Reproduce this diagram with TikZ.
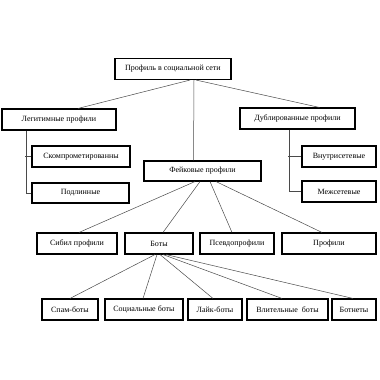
\documentclass[tikz,border=0pt]{standalone}
\usepackage{fontspec}
\setmainfont{Liberation Serif}
\usetikzlibrary{calc}
\definecolor{linegray}{HTML}{4A4A4A}

\begin{document}
\begin{tikzpicture}[x=1pt,y=-1pt,
  box/.style={draw,line width=1.1pt,inner sep=0pt,minimum height=21pt,
    font=\fontsize{8}{9.6}\selectfont},
  link/.style={draw=linegray,line width=.5pt}]
  \useasboundingbox (0,0) rectangle (380,380);

  % Root and first level
  \node[box,minimum width=116pt] (root) at (173,69) {Профиль в социальной сети};
  \node[box,minimum width=114pt] (legit) at (59,119.5) {Легитимные профили};
  \node[box,minimum width=115pt] (dubl) at (297.5,118.5) {Дублированные профили};
  \node[box,minimum width=117pt,minimum height=20pt] (fake) at (202.5,171) {Фейковые профили};

  % Children of the side branches
  \node[box,minimum width=98pt] (komp) at (81,156.5) {Скомпрометированны};
  \node[box,minimum width=97pt,minimum height=20pt] (podl) at (80.5,193) {Подлинные};
  \node[box,minimum width=74pt] (vnutr) at (339,156.5) {Внутрисетевые};
  \node[box,minimum width=74pt] (mezh) at (339,191.5) {Межсетевые};

  % Fake profile types
  \node[box,minimum width=80pt] (sybil) at (77,243.5) {Сибил профили};
  \node[box,minimum width=68pt] (bots) at (159,243.5) {Боты};
  \node[box,minimum width=74pt] (pseudo) at (237,243.5) {Псевдопрофили};
  \node[box,minimum width=94pt] (prof) at (329,243.5) {Профили};

  % Bot types
  \node[box,minimum width=56pt] (spam) at (70,309.5) {Спам-боты};
  \node[box,minimum width=78pt] (social) at (144,309.5) {Социальные боты};
  \node[box,minimum width=54pt] (like) at (215,309.5) {Лайк-боты};
  \node[box,minimum width=81pt] (influ) at (287.5,309.5) {Влительные\ \ боты};
  \node[box,minimum width=44pt] (botnet) at (354,309.5) {Ботнеты};

  % Connectors from the root
  \draw[link] ([xshift=17]root.south) -- ([xshift=19]legit.north);
  \draw[link] ([xshift=21]root.south) -- ([xshift=-9]fake.north);
  \draw[link] ([xshift=23]root.south) -- ([xshift=22]dubl.north);

  % Side trees
  \draw[link] ([xshift=-33]legit.south) |- (podl.west);
  \draw[link] (komp.west) -- ++(-6,0);
  \draw[link] ([xshift=-8.5]dubl.south) |- (mezh.west);
  \draw[link] (vnutr.west) -- ++(-13,0);

  % Fake profiles fan out
  \draw[link] ([xshift=-7.5]fake.south) -- ([xshift=2]sybil.north);
  \draw[link] ([xshift=-2.5]fake.south) -- ([xshift=4]bots.north);
  \draw[link] ([xshift=7.5]fake.south) -- ([xshift=-5]pseudo.north);
  \draw[link] ([xshift=13.5]fake.south) -- ([xshift=-7]prof.north);

  % Bots fan out
  \draw[link] ([xshift=-4]bots.south) -- (spam.north);
  \draw[link] ([xshift=-2]bots.south) -- ([xshift=-1]social.north);
  \draw[link] ([xshift=1]bots.south) -- ([xshift=-2]like.north);
  \draw[link] ([xshift=4]bots.south) -- ([xshift=-5.5]influ.north);
  \draw[link] ([xshift=7]bots.south) -- ([xshift=-1]botnet.north);
\end{tikzpicture}
\end{document}
